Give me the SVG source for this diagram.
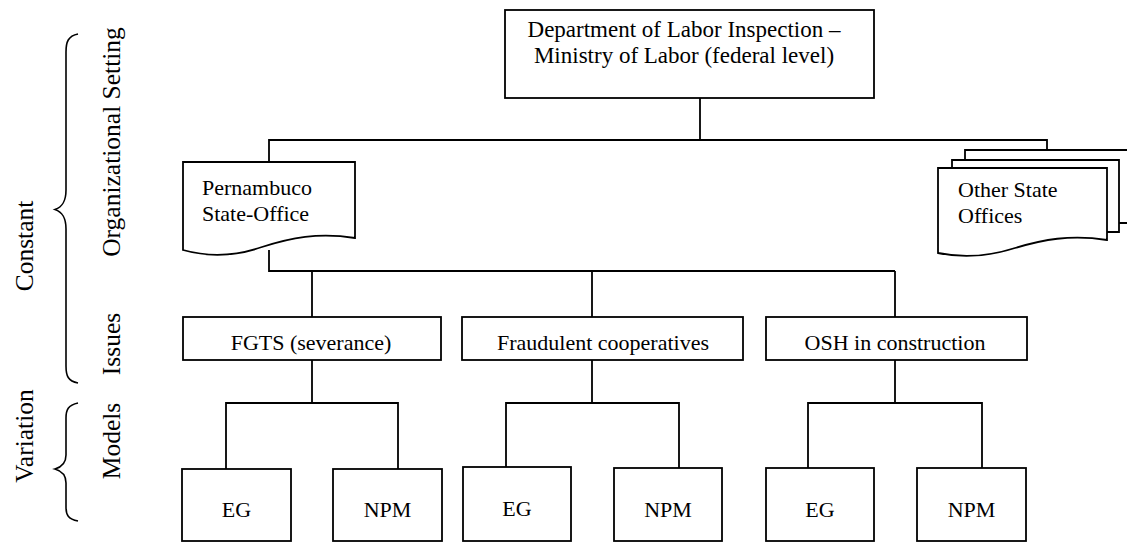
<svg xmlns="http://www.w3.org/2000/svg" width="1127" height="543" viewBox="0 0 1127 543">
<style>
.box{fill:#fff;stroke:#000;stroke-width:1.8}
.ln{fill:none;stroke:#000;stroke-width:1.8}
.br{fill:none;stroke:#000;stroke-width:1.6}
text{font-family:"Liberation Serif","Times New Roman",serif;font-size:22px;fill:#000}
.c{text-anchor:middle}
.big{font-size:23px}
.side{font-size:25.5px;text-anchor:middle}
</style>
<rect width="1127" height="543" fill="#fff"/>
<g id="labels">
<path class="br" d="M78,34 C68,36 66,42 66,52 L66,190 C66,202 62,207 55,209.5 C62,212 66,217 66,229 L66,366 C66,376 68,381 78,383"/>
<path class="br" d="M78,403 C68,405 66,410 66,418 L66,455 C66,463 62,467 55,469 C62,471 66,475 66,483 L66,507 C66,515 68,519 78,521"/>
<text class="side" transform="translate(33,246) rotate(-90)">Constant</text>
<text class="side" transform="translate(120,142) rotate(-90)">Organizational Setting</text>
<text class="side" transform="translate(120,344) rotate(-90)">Issues</text>
<text class="side" transform="translate(33,436) rotate(-90)">Variation</text>
<text class="side" transform="translate(120,441) rotate(-90)">Models</text>
</g>
<g id="connectors">
<path class="ln" d="M700,98 V140 M269,162 V140 H1047 V150"/>
<path class="ln" d="M269,250 V271 H895 M312,271 V317 M592,271 V317 M895,271 V317"/>
<path class="ln" d="M312,360 V403 M226,469 V403 H398 V469"/>
<path class="ln" d="M592,360 V403 M506,467 V403 H679 V468"/>
<path class="ln" d="M895,360 V403 M808,468 V403 H982 V468"/>
</g>
<g id="dept">
<rect class="box" x="505" y="10" width="369" height="88"/>
<text class="c big" x="684" y="37">Department of Labor Inspection –</text>
<text class="c big" x="684" y="63">Ministry of Labor (federal level)</text>
</g>
<g id="pernambuco">
<path class="box" d="M183,162 H355 V238 C318,232 290,238 262,247 C236,256 208,257 183,250 Z"/>
<text x="202" y="195">Pernambuco</text>
<text x="202" y="221">State-Office</text>
</g>
<g id="other-offices">
<path class="box" d="M965,150 H1140 V223 H965 Z"/>
<path class="box" d="M952,160 H1119 V232 H952 Z"/>
<path class="box" d="M938,168 H1107 V240 C1070,234 1042,240 1015,248 C990,256 962,258 938,253 Z"/>
<text x="958" y="197">Other State</text>
<text x="958" y="223">Offices</text>
</g>
<g id="fgts">
<rect class="box" x="183" y="317" width="258" height="43"/>
<text class="c" x="311" y="350">FGTS (severance)</text>
</g>
<g id="fraud">
<rect class="box" x="462" y="317" width="281" height="43"/>
<text class="c" x="603" y="350">Fraudulent cooperatives</text>
</g>
<g id="osh">
<rect class="box" x="766" y="317" width="261" height="43"/>
<text class="c" x="895" y="350">OSH in construction</text>
</g>
<g id="eg1"><rect class="box" x="182" y="469" width="109" height="72"/><text class="c" x="236.5" y="517">EG</text></g>
<g id="npm1"><rect class="box" x="333" y="469" width="109" height="72"/><text class="c" x="387.5" y="517">NPM</text></g>
<g id="eg2"><rect class="box" x="463" y="467" width="108" height="74"/><text class="c" x="517" y="516">EG</text></g>
<g id="npm2"><rect class="box" x="614" y="468" width="108" height="73"/><text class="c" x="668" y="517">NPM</text></g>
<g id="eg3"><rect class="box" x="766" y="468" width="108" height="73"/><text class="c" x="820" y="517">EG</text></g>
<g id="npm3"><rect class="box" x="917" y="468" width="109" height="73"/><text class="c" x="971.5" y="517">NPM</text></g>
</svg>
